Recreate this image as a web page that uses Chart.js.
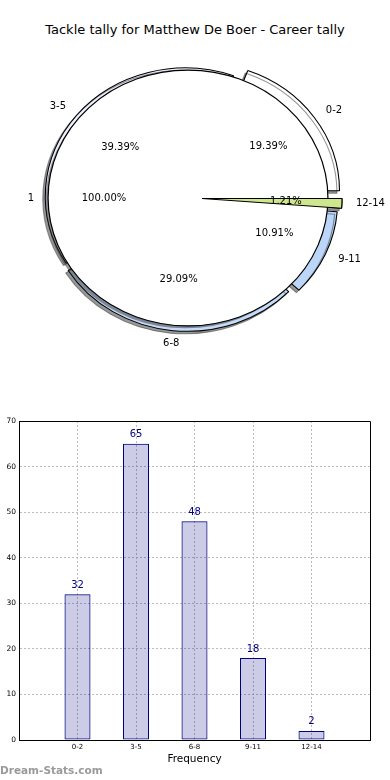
<!DOCTYPE html>
<html>
<head>
<meta charset="utf-8">
<script src="https://cdn.jsdelivr.net/npm/chart.js@4.4.1/dist/chart.umd.min.js"></script>
<style>
  html, body { margin: 0; padding: 0; background: #ffffff; }
  #wrap { position: relative; width: 390px; height: 780px; overflow: hidden; font-family: 'DejaVu Sans', sans-serif; }
  #wrap canvas { position: absolute; left: 0; }
  #title { position: absolute; left: 0; top: 21px; width: 390px; text-align: center; font-size: 13px; line-height: 18px; color: #000; }
  #mark { position: absolute; left: 0; top: 763px; font-size: 10.5px; font-weight: bold; line-height: 14px; color: #9a9a9a; }
</style>
</head>
<body>
<div id="wrap">
  <div id="title">Tackle tally for Matthew De Boer - Career tally</div>
  <canvas id="pieBack" width="390" height="400" style="top:0"></canvas>
  <canvas id="pieWhole" width="390" height="400" style="top:0"></canvas>
  <canvas id="pieFront" width="390" height="400" style="top:0"></canvas>
  <canvas id="bars" width="390" height="380" style="top:400px"></canvas>
  <div id="mark">Dream-Stats.com</div>
</div>
<script>
// ---------------- data ----------------
const categories = ['0-2', '3-5', '6-8', '9-11', '12-14'];
const tallies = [32, 65, 48, 18, 2];
const wholeLabels = ['1'];
const wholeValues = [1];
const yTickValues = [0, 10, 20, 30, 40, 50, 60, 70];

// ---------------- styles ----------------
const sliceColors = ['#ffffff', '#eceffb', '#c6dbf7', '#bcd6fa', '#cfe78c'];
const sliceExplode = [0.10, 0.025, 0.042, 0.075, 0.10];
const frontCategory = '12-14';
const PIE_R = 128;
const PIE_SX = 140 / 128;
const FONT = 'DejaVu Sans';

// pie is drawn counter-clockwise from 3 o'clock, Chart.js goes clockwise -> reverse
const pieOrder = categories.map((_, i) => i).reverse();
const pieLabels = pieOrder.map(i => categories[i]);
const pieValues = pieOrder.map(i => tallies[i]);
const total = tallies.reduce((a, b) => a + b, 0);
const piePcts = pieValues.map(v => (v / total * 100).toFixed(2) + '%');
const wholeTotal = wholeValues.reduce((a, b) => a + b, 0);
const wholePcts = wholeValues.map(v => (v / wholeTotal * 100).toFixed(2) + '%');
const explodeBack = j => sliceExplode[pieOrder[j]];
const explodeNone = () => 0;

// draws every arc squeezed into an ellipse, exploded along its mid angle, optionally with a drop shadow
function ellipseArcs(explodeFor) {
  return {
    id: 'ellipseArcs',
    beforeDatasetsDraw(chart) {
      chart.data.datasets.forEach((ds, di) => {
        chart.getDatasetMeta(di).data.forEach((arc, j) => {
          if (arc.$ell) return;
          const base = arc.draw;
          arc.draw = function (ctx, area) {
            const mid = (this.startAngle + this.endAngle) / 2;
            const d = explodeFor(j) * PIE_R;
            ctx.save();
            ctx.translate(this.x, this.y);
            ctx.scale(PIE_SX, 1);
            ctx.translate(Math.cos(mid) * d, Math.sin(mid) * d);
            ctx.translate(-this.x, -this.y);
            if (ds.dropShadow) {
              ctx.shadowColor = 'rgba(50,50,50,0.5)';
              ctx.shadowOffsetX = -2.5;
              ctx.shadowOffsetY = 2.5;
              ctx.shadowBlur = 0;
            }
            base.call(this, ctx, area);
            ctx.restore();
          };
          arc.$ell = true;
        });
      });
    }
  };
}

function pieText(labels, pcts, explodeFor) {
  return {
    id: 'pieText',
    afterDatasetsDraw(chart) {
      const ctx = chart.ctx;
      ctx.save();
      ctx.font = '10px "' + FONT + '"';
      ctx.fillStyle = '#000';
      ctx.textBaseline = 'middle';
      chart.getDatasetMeta(0).data.forEach((arc, j) => {
        const mid = (arc.startAngle + arc.endAngle) / 2;
        const c = Math.cos(mid), s = Math.sin(mid);
        const d = explodeFor(j) * PIE_R;
        const at = k => [arc.x + PIE_SX * (d + k * PIE_R) * c, arc.y + (d + k * PIE_R) * s];
        const [lx, ly] = at(1.1);
        ctx.textAlign = Math.abs(c) < 0.2 ? 'center' : (c > 0 ? 'left' : 'right');
        ctx.fillText(labels[j], lx, ly);
        const [px, py] = at(0.6);
        ctx.textAlign = 'center';
        ctx.fillText(pcts[j], px, py);
      });
      ctx.restore();
    }
  };
}

function pieOptions() {
  return {
    responsive: false,
    animation: false,
    devicePixelRatio: 1,
    events: [],
    rotation: 90,
    radius: PIE_R,
    layout: { padding: { left: 0, right: 14, top: 0, bottom: 4 } },
    plugins: { legend: { display: false }, tooltip: { enabled: false }, title: { display: false } }
  };
}

// back layer: exploded slices
new Chart(document.getElementById('pieBack'), {
  type: 'pie',
  data: {
    labels: pieLabels,
    datasets: [{
      data: pieValues,
      backgroundColor: pieOrder.map(i => sliceColors[i]),
      borderColor: '#000',
      borderWidth: 1,
      dropShadow: true
    }]
  },
  options: pieOptions(),
  plugins: [ellipseArcs(explodeBack)]
});

// middle layer: whole-career pie ("1", 100%) -- a hairline ring gives the seamless outline, the inner pie the white fill
new Chart(document.getElementById('pieWhole'), {
  type: 'doughnut',
  data: {
    labels: wholeLabels,
    datasets: [
      { data: wholeValues, weight: 0.001, backgroundColor: 'rgba(0,0,0,0)', borderColor: '#000', borderWidth: 1 },
      { data: wholeValues, weight: 1, backgroundColor: '#ffffff', borderWidth: 0, dropShadow: true }
    ]
  },
  options: Object.assign(pieOptions(), { cutout: 0 }),
  plugins: [ellipseArcs(explodeNone), pieText(wholeLabels, wholePcts, explodeNone)]
});

// front layer: smallest slice drawn on top + slice labels
new Chart(document.getElementById('pieFront'), {
  type: 'pie',
  data: {
    labels: pieLabels,
    datasets: [{
      data: pieValues,
      backgroundColor: pieOrder.map(i => categories[i] === frontCategory ? sliceColors[i] : 'rgba(0,0,0,0)'),
      borderColor: pieOrder.map(i => categories[i] === frontCategory ? '#000' : 'rgba(0,0,0,0)'),
      borderWidth: 1
    }]
  },
  options: pieOptions(),
  plugins: [ellipseArcs(explodeBack), pieText(pieLabels, piePcts, explodeBack)]
});

// ---------------- bar chart ----------------
const framePlugin = {
  id: 'frame',
  afterDraw(chart) {
    const { left, top, right, bottom } = chart.chartArea;
    const ctx = chart.ctx;
    ctx.save();
    ctx.strokeStyle = '#000';
    ctx.lineWidth = 1;
    ctx.beginPath();
    ctx.moveTo(Math.round(left), Math.round(top) + 0.5);
    ctx.lineTo(Math.round(right) + 0.5, Math.round(top) + 0.5);
    ctx.lineTo(Math.round(right) + 0.5, Math.round(bottom) + 0.5);
    ctx.stroke();
    ctx.restore();
  }
};

const valueLabels = {
  id: 'valueLabels',
  afterDatasetsDraw(chart) {
    const ctx = chart.ctx;
    ctx.save();
    ctx.font = '10px "' + FONT + '"';
    ctx.fillStyle = '#000080';
    ctx.textAlign = 'center';
    ctx.textBaseline = 'middle';
    chart.getDatasetMeta(0).data.forEach((bar, i) => {
      ctx.fillText(String(tallies[i]), bar.x, bar.y - 9);
    });
    ctx.restore();
  }
};

new Chart(document.getElementById('bars'), {
  type: 'bar',
  data: {
    datasets: [{
      data: tallies.map((v, i) => ({ x: i, y: v })),
      backgroundColor: 'rgba(0,0,128,0.2)',
      borderColor: '#000080',
      borderWidth: 1,
      inflateAmount: 0,
      barThickness: 26,
      borderSkipped: false
    }]
  },
  options: {
    responsive: false,
    animation: false,
    devicePixelRatio: 1,
    events: [],
    layout: { padding: { left: 0, right: 20, top: 21, bottom: 0 } },
    plugins: { legend: { display: false }, tooltip: { enabled: false } },
    scales: {
      x: {
        type: 'linear',
        min: -1,
        max: 5,
        offset: false,
        afterBuildTicks: s => { s.ticks = categories.map((_, i) => ({ value: i })); },
        afterFit: s => { s.height = 40; },
        ticks: {
          callback: v => categories[v] ?? '',
          font: { family: FONT, size: 7 },
          color: '#000',
          padding: 3,
          maxRotation: 0,
          autoSkip: false
        },
        grid: { color: '#bcbcbc', drawTicks: false, lineWidth: 1, offset: false },
        border: { color: '#000', width: 1, dash: [2, 2] },
        title: {
          display: true,
          text: 'Frequency',
          font: { family: FONT, size: 10.5 },
          color: '#000',
          padding: { top: 0, bottom: 14 }
        }
      },
      y: {
        min: 0,
        max: 70,
        afterBuildTicks: s => { s.ticks = yTickValues.map(v => ({ value: v })); },
        afterFit: s => { s.width = 19; },
        ticks: { font: { family: FONT, size: 7.5 }, color: '#000', padding: 3 },
        grid: {
          color: c => (c.tick && (c.tick.value === 0 || c.tick.value === 70)) ? 'rgba(0,0,0,0)' : '#bcbcbc',
          drawTicks: false
        },
        border: { color: '#000', width: 1, dash: [2, 2] }
      }
    }
  },
  plugins: [framePlugin, valueLabels]
});
</script>
</body>
</html>
